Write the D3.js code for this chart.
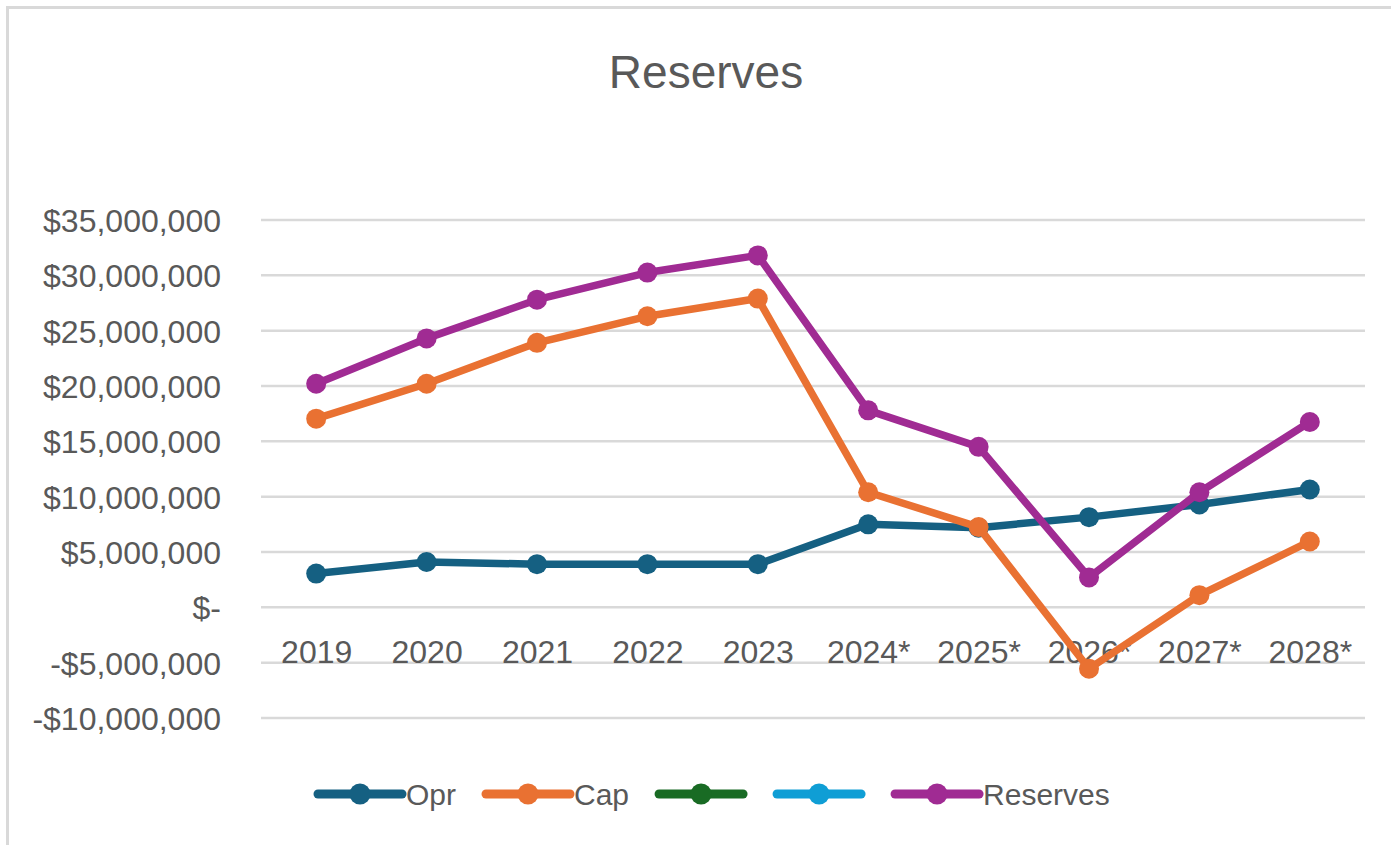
<!DOCTYPE html>
<html>
<head>
<meta charset="utf-8">
<script src="https://cdn.jsdelivr.net/npm/d3@7/dist/d3.min.js"></script>
<style>
  html, body { margin: 0; padding: 0; background: #fff; }
  svg { display: block; font-family: "Liberation Sans", Arial, sans-serif; }
</style>
</head>
<body>
<svg id="chart" width="1391" height="845"></svg>
<script>
// Fiscal years (starred years are projections)
const years = ["2019", "2020", "2021", "2022", "2023", "2024*", "2025*", "2026*", "2027*", "2028*"];

// Balances in dollars
const oprValues = [3050000, 4100000, 3900000, 3900000, 3900000, 7500000, 7200000, 8150000, 9300000, 10650000];
const capValues = [17050000, 20200000, 23900000, 26300000, 27900000, 10400000, 7250000, -5550000, 1100000, 5950000];
const reserveValues = [20200000, 24300000, 27800000, 30250000, 31800000, 17800000, 14500000, 2700000, 10400000, 16750000];

// Y axis ticks
const yTicks = [35000000, 30000000, 25000000, 20000000, 15000000, 10000000, 5000000, 0, -5000000, -10000000];

// Series shown in the legend (two are placeholders without data)
const seriesNames = ["Opr", "Cap", "", "", "Reserves"];
const seriesColors = ["#156082", "#e97132", "#196b24", "#0f9ed5", "#a02b93"];
const seriesData = [oprValues, capValues, [], [], reserveValues];

const svg = d3.select("#chart");
const textColor = "#595959";

// Chart frame
svg.append("rect")
  .attr("x", 7.5).attr("y", 7.5)
  .attr("width", 1420).attr("height", 860)
  .attr("fill", "#fff")
  .attr("stroke", "#d9d9d9").attr("stroke-width", 3);

// Title
svg.append("text")
  .attr("x", 706).attr("y", 88)
  .attr("text-anchor", "middle")
  .attr("font-size", 46)
  .attr("fill", textColor)
  .text("Reserves");

const x = d3.scalePoint().domain(years).range([261, 1365]).padding(0.5);
const y = d3.scaleLinear().domain([-10000000, 35000000]).range([718, 220]);

// Gridlines
svg.append("g")
  .selectAll("line")
  .data(yTicks)
  .join("line")
  .attr("x1", 261).attr("x2", 1365)
  .attr("y1", d => y(d)).attr("y2", d => y(d))
  .attr("stroke", "#d9d9d9").attr("stroke-width", 2.5);

// Y axis labels in accounting style
const fmt = d3.format(",");
function money(v) {
  if (v === 0) return "$-";
  return (v < 0 ? "-$" : "$") + fmt(Math.abs(v));
}
const yAxis = d3.axisLeft(y).tickValues(yTicks).tickFormat(money).tickSize(0).tickPadding(0);
const yg = svg.append("g").attr("transform", "translate(221,0)").call(yAxis);
yg.select(".domain").remove();
yg.selectAll("text")
  .attr("font-size", 32)
  .attr("font-family", "Liberation Sans, Arial, sans-serif")
  .attr("fill", textColor)
  .attr("dy", "0.36em");

// Category labels sit just below the zero line
const xAxis = d3.axisBottom(x).tickSize(0).tickPadding(0);
const xg = svg.append("g").attr("transform", `translate(0,${y(0)})`).call(xAxis);
xg.select(".domain").remove();
xg.selectAll("text")
  .attr("font-size", 32)
  .attr("font-family", "Liberation Sans, Arial, sans-serif")
  .attr("fill", textColor)
  .attr("y", 56)
  .attr("dy", 0);

// Series lines and markers
const line = d3.line()
  .x((d, i) => x(years[i]))
  .y(d => y(d));

seriesData.forEach((vals, s) => {
  if (!vals.length) return;
  const g = svg.append("g");
  g.append("path")
    .datum(vals)
    .attr("d", line)
    .attr("fill", "none")
    .attr("stroke", seriesColors[s])
    .attr("stroke-width", 7.5)
    .attr("stroke-linejoin", "round");
  g.selectAll("circle")
    .data(vals)
    .join("circle")
    .attr("cx", (d, i) => x(years[i]))
    .attr("cy", d => y(d))
    .attr("r", 10)
    .attr("fill", seriesColors[s]);
});

// Legend
const legend = svg.append("g").attr("transform", "translate(318,794)");
let lx = 0;
seriesNames.forEach((name, i) => {
  const item = legend.append("g").attr("transform", `translate(${lx},0)`);
  item.append("line")
    .attr("x1", 0).attr("x2", 84)
    .attr("stroke", seriesColors[i])
    .attr("stroke-width", 9)
    .attr("stroke-linecap", "round");
  item.append("circle")
    .attr("cx", 42).attr("r", 10.5)
    .attr("fill", seriesColors[i]);
  const t = item.append("text")
    .attr("x", 88).attr("dy", "0.36em")
    .attr("font-size", 30)
    .attr("fill", textColor)
    .text(name);
  const w = name ? t.node().getComputedTextLength() : 0;
  lx += 88 + w + 30;
});
</script>
</body>
</html>
